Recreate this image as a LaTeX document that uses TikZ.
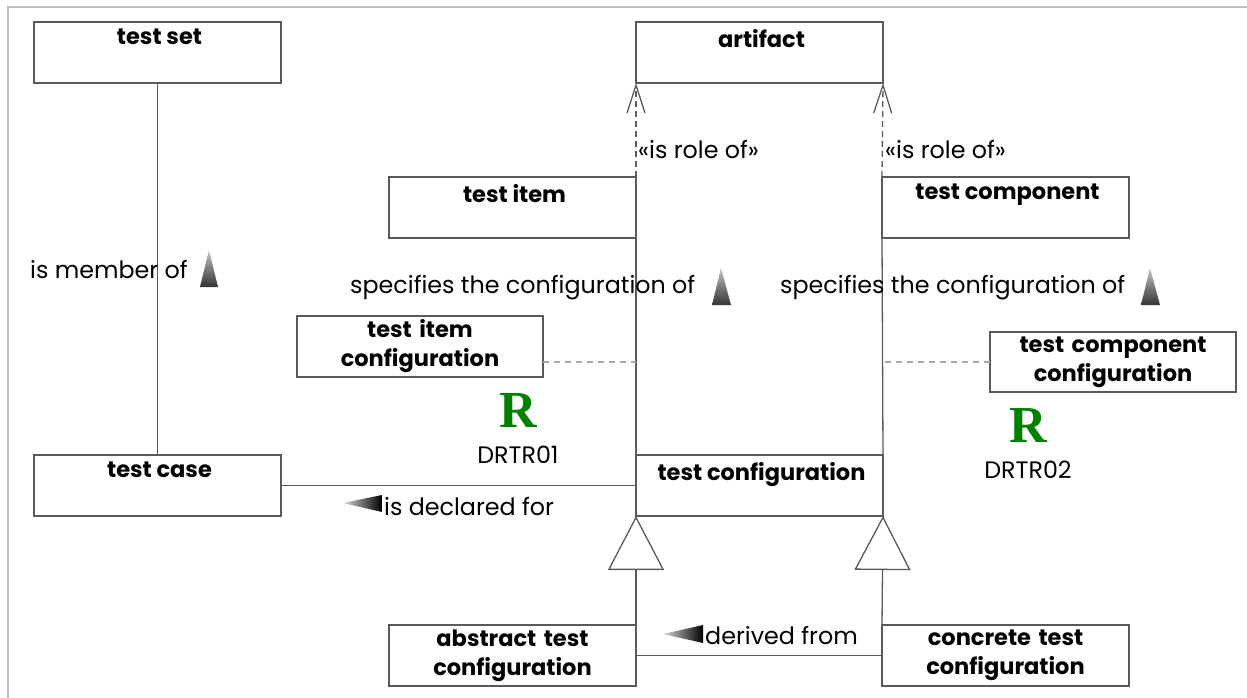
\documentclass[tikz,border=0pt]{standalone}
\usepackage{fontspec}
\setmainfont{Poppins}
\newfontfamily\rfont{Liberation Serif}
\usetikzlibrary{arrows.meta}
\definecolor{edge}{HTML}{5A5A5A}
\definecolor{frame}{HTML}{C0C0C0}
\definecolor{rgreen}{HTML}{008000}
\begin{document}
\begin{tikzpicture}[x=1pt,y=-1pt,
 box/.style={draw=edge, line width=1.3pt, minimum width=247pt, minimum height=61pt, anchor=north west, inner sep=0pt, outer sep=0pt},
 ttl/.style={font=\fontsize{22.5}{29}\selectfont\bfseries},
 titled/.style={box, label={[ttl, anchor=north, inner sep=0pt, yshift=-7pt, xshift=2pt]north:#1}},
 twoline/.style={box, ttl, align=center, text width=240pt},
 lbl/.style={font=\fontsize{23.8}{28}\selectfont, inner sep=0pt, anchor=west},
 ctr/.style={font=\fontsize{23.8}{28}\selectfont, inner sep=0pt},
 bigr/.style={font=\rfont\fontsize{52}{52}\selectfont\bfseries, text=rgreen, inner sep=0pt},
 link/.style={draw=edge, line width=1.3pt},
 role/.style={link, dash pattern=on 6pt off 4pt, -{Straight Barb[length=28pt,width=18pt]}},
 assoc/.style={draw=gray!70, line width=1.3pt, dash pattern=on 6pt off 5pt},
 gen/.style={link, -{Triangle[open, length=54pt, width=56pt, fill=white]}},
 upmark/.style={top color=gray!45, bottom color=black!80},
 leftmark/.style={left color=gray!30, right color=black}
]
\useasboundingbox (0,0) rectangle (1247,698);
% frame
\draw[frame, line width=2pt] (8,698) -- (8,7) -- (1247,7);

% boxes
\node[titled={test set}] (tset) at (34,22) {};
\node[titled={artifact}] (artifact) at (636,22) {};
\node[titled={test item}] (titem) at (389,177) {};
\node[titled={test component}] (tcomp) at (882,177) {};
\node[twoline, minimum width=246pt] (ticonf) at (297,316) {test item\\configuration};
\node[twoline, minimum width=246pt, minimum height=60pt] (tcconf) at (990,332) {test component\\configuration};
\node[titled={test case}] (tcase) at (34,455) {};
\node[titled={test configuration}] (tconf) at (636,455) {};
\node[twoline] (abstract) at (389,625) {abstract test\\configuration};
\node[twoline] (concrete) at (882,625) {concrete test\\configuration};

% connectors
\draw[link] (tset.south) -- (tcase.north);
\draw[role] (titem.north east) -- (artifact.south west);
\draw[role] (tcomp.north west) -- (artifact.south east);
\draw[link] (titem.south east) -- (tconf.north west);
\draw[link] (tcomp.south west) -- (tconf.north east);
\coordinate (la) at (636,362);
\draw[assoc] (ticonf.east |- la) -- (la);
\draw[assoc] (tcconf.west) -- (tcconf.west -| tconf.east);
\draw[link] (tcase.east) -- (tconf.west);
\draw[gen] (abstract.north east) -- (tconf.south west);
\draw[gen] (concrete.north west) -- (tconf.south east);
\draw[link] (abstract.east) -- (concrete.west);

% labels
\node[lbl] (mem) at (30,270) {is member of};
\node[lbl] (spec1) at (350,288) {specifies the configuration of};
\node[lbl] (spec2) at (780,288) {specifies the configuration of};
\node[lbl] (role1) at (638,150) {«is role of»};
\node[lbl] (role2) at (885,150) {«is role of»};
\node[lbl] (decl) at (384,507) {is declared for};
\node[lbl] (der) at (705,636) {derived from};

\shade[upmark] (209,250) -- (218,287) -- (200,287) -- cycle;
\shade[upmark] (721,268) -- (731,305) -- (712,305) -- cycle;
\shade[upmark] (1150,268) -- (1160,305) -- (1141,305) -- cycle;
\shade[leftmark] (343,503) -- (382,495) -- (382,512) -- cycle;
\shade[leftmark] (663,634) -- (703,625) -- (703,643) -- cycle;

% requirement markers
\node[bigr] (r1) at (518,410) {R};
\node[ctr] (d1) at (518,455) {DRTR01};
\node[bigr] (r2) at (1028,425) {R};
\node[ctr] (d2) at (1028,470) {DRTR02};
\end{tikzpicture}
\end{document}
